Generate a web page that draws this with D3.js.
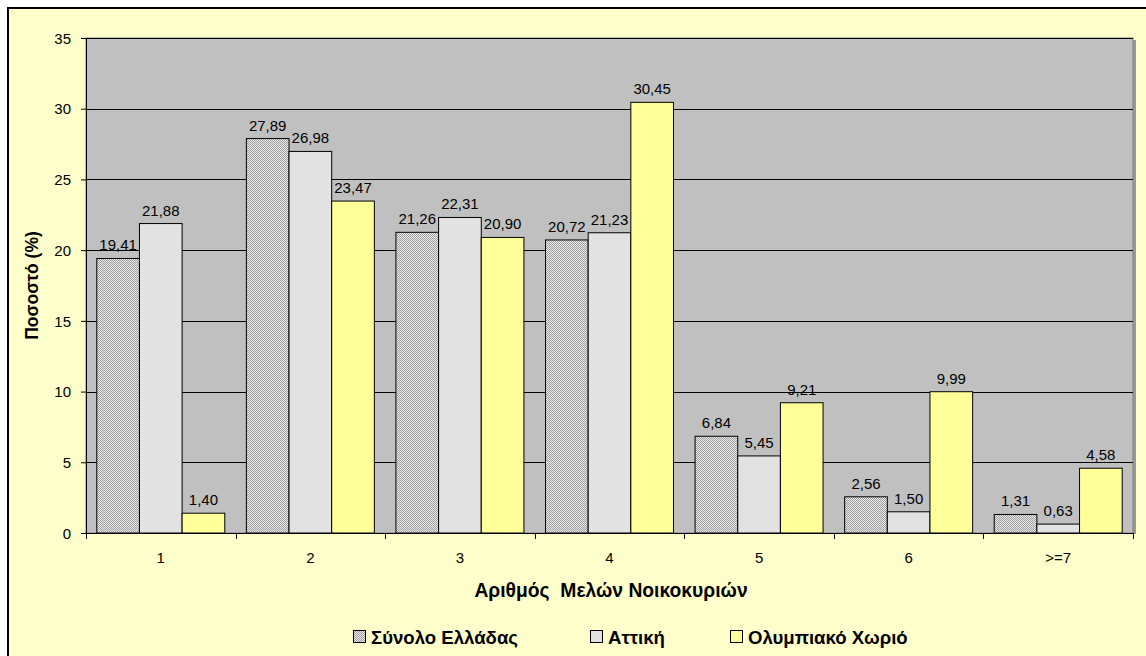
<!DOCTYPE html>
<html><head><meta charset="utf-8">
<script src="https://cdn.jsdelivr.net/npm/d3@7"></script>
<style>body{margin:0;background:#fff}svg{display:block;font-family:"Liberation Sans",Arial,sans-serif}</style>
</head><body><svg id="c" width="1146" height="656"></svg>
<script>
const categories = ["1","2","3","4","5","6",">=7"];
const seriesNames = ["Σύνολο Ελλάδας","Αττική","Ολυμπιακό Χωριό"];
const synolo = [19.41,27.89,21.26,20.72,6.84,2.56,1.31];
const attiki = [21.88,26.98,22.31,21.23,5.45,1.50,0.63];
const olymp = [1.40,23.47,20.90,30.45,9.21,9.99,4.58];
const yTicks = [0,5,10,15,20,25,30,35];
const fills = ["url(#chk)","url(#lg)","#ffff99"];
const FF = "Liberation Sans, Arial, sans-serif";

const svg = d3.select("#c");
const defs = svg.append("defs");
const p = defs.append("pattern").attr("id","chk").attr("width",2).attr("height",2).attr("patternUnits","userSpaceOnUse");
p.append("rect").attr("width",2).attr("height",2).attr("fill","#e8e8e8");
p.append("rect").attr("width",1).attr("height",1).attr("fill","#a0a0a0");
p.append("rect").attr("x",1).attr("y",1).attr("width",1).attr("height",1).attr("fill","#a0a0a0");
const p2 = defs.append("pattern").attr("id","lg").attr("width",4).attr("height",4).attr("patternUnits","userSpaceOnUse");
p2.append("rect").attr("width",4).attr("height",4).attr("fill","#e4e4e4");
p2.append("path").attr("d","M0,4L4,0").attr("stroke","#dadada").attr("stroke-width",0.7);

svg.append("rect").attr("x",0).attr("y",0).attr("width",1146).attr("height",656).attr("fill","#fff");
svg.append("rect").attr("x",8).attr("y",8).attr("width",1145).attr("height",660).attr("fill","#ffffcc").attr("stroke","#000").attr("stroke-width",2);

const L=86,R=1133,T=38,B=533;
const x = d3.scaleBand().domain(categories).range([L,R]).paddingInner(0).paddingOuter(0);
const y = d3.scaleLinear().domain([0,35]).range([B,T]);
const inner = d3.scaleBand().domain(d3.range(3)).range([0,x.bandwidth()]).paddingOuter(0.253).paddingInner(0);

svg.append("rect").attr("x",R).attr("y",T+2).attr("width",3).attr("height",B-T-1).attr("fill","#999");
svg.append("rect").attr("x",L).attr("y",T).attr("width",R-L).attr("height",B-T).attr("fill","#c0c0c0").attr("stroke","#808080").attr("stroke-width",1);

svg.append("g").selectAll("line").data(yTicks.slice(1)).join("line")
  .attr("x1",L).attr("x2",R).attr("y1",d=>Math.round(y(d))+0.5).attr("y2",d=>Math.round(y(d))+0.5)
  .attr("stroke","#000").attr("stroke-width",1);

const data = [synolo,attiki,olymp];
data.forEach((s,si)=>{
  const g = svg.append("g");
  g.selectAll("rect").data(s).join("rect")
    .attr("x",(d,i)=>x(categories[i])+inner(si))
    .attr("y",d=>y(d)).attr("width",inner.bandwidth()).attr("height",d=>B-y(d))
    .attr("fill",fills[si]).attr("stroke","#000").attr("stroke-width",1);
  g.selectAll("text").data(s).join("text")
    .attr("x",(d,i)=>x(categories[i])+inner(si)+inner.bandwidth()/2)
    .attr("y",d=>y(d)-8).attr("text-anchor","middle").attr("font-size",15).attr("fill","#000")
    .text(d=>d.toFixed(2).replace(".",","));
});

const ya = svg.append("g").attr("transform",`translate(${L},0)`)
  .call(d3.axisLeft(y).tickValues(yTicks).tickSize(5).tickPadding(10));
ya.select(".domain").attr("stroke","#000");
ya.selectAll("text").attr("font-size",15).attr("font-family",FF).attr("fill","#000").attr("dy","0.35em");
const xa = svg.append("g").attr("transform",`translate(0,${B})`)
  .call(d3.axisBottom(x).tickSize(0).tickPadding(19));
xa.select(".domain").attr("stroke","#000").attr("stroke-width",1.2);
xa.selectAll("text").attr("font-size",15).attr("font-family",FF).attr("fill","#000");
svg.append("g").selectAll("line").data(categories.concat(["end"])).join("line")
  .attr("x1",(d,i)=>i<categories.length?Math.round(x(d))+0.5:R+0.5).attr("x2",(d,i)=>i<categories.length?Math.round(x(d))+0.5:R+0.5)
  .attr("y1",B).attr("y2",B+6).attr("stroke","#000");

svg.append("text").attr("x",611).attr("y",597).attr("text-anchor","middle")
  .attr("font-size",19.3).attr("font-weight","bold").attr("xml:space","preserve").text("Αριθμός  Μελών Νοικοκυριών");
svg.append("text").attr("transform",`translate(38,${(T+B)/2}) rotate(-90)`).attr("text-anchor","middle")
  .attr("font-size",17.5).attr("font-weight","bold").text("Ποσοστό (%)");

const legX=[353,590,730];
const lg = svg.append("g");
seriesNames.forEach((n,i)=>{
  lg.append("rect").attr("x",legX[i]+0.5).attr("y",630.5).attr("width",12).attr("height",12).attr("fill",fills[i]).attr("stroke","#000");
  lg.append("text").attr("x",legX[i]+18).attr("y",644).attr("font-size",18.6).attr("font-weight","bold").text(n);
});
</script></body></html>
